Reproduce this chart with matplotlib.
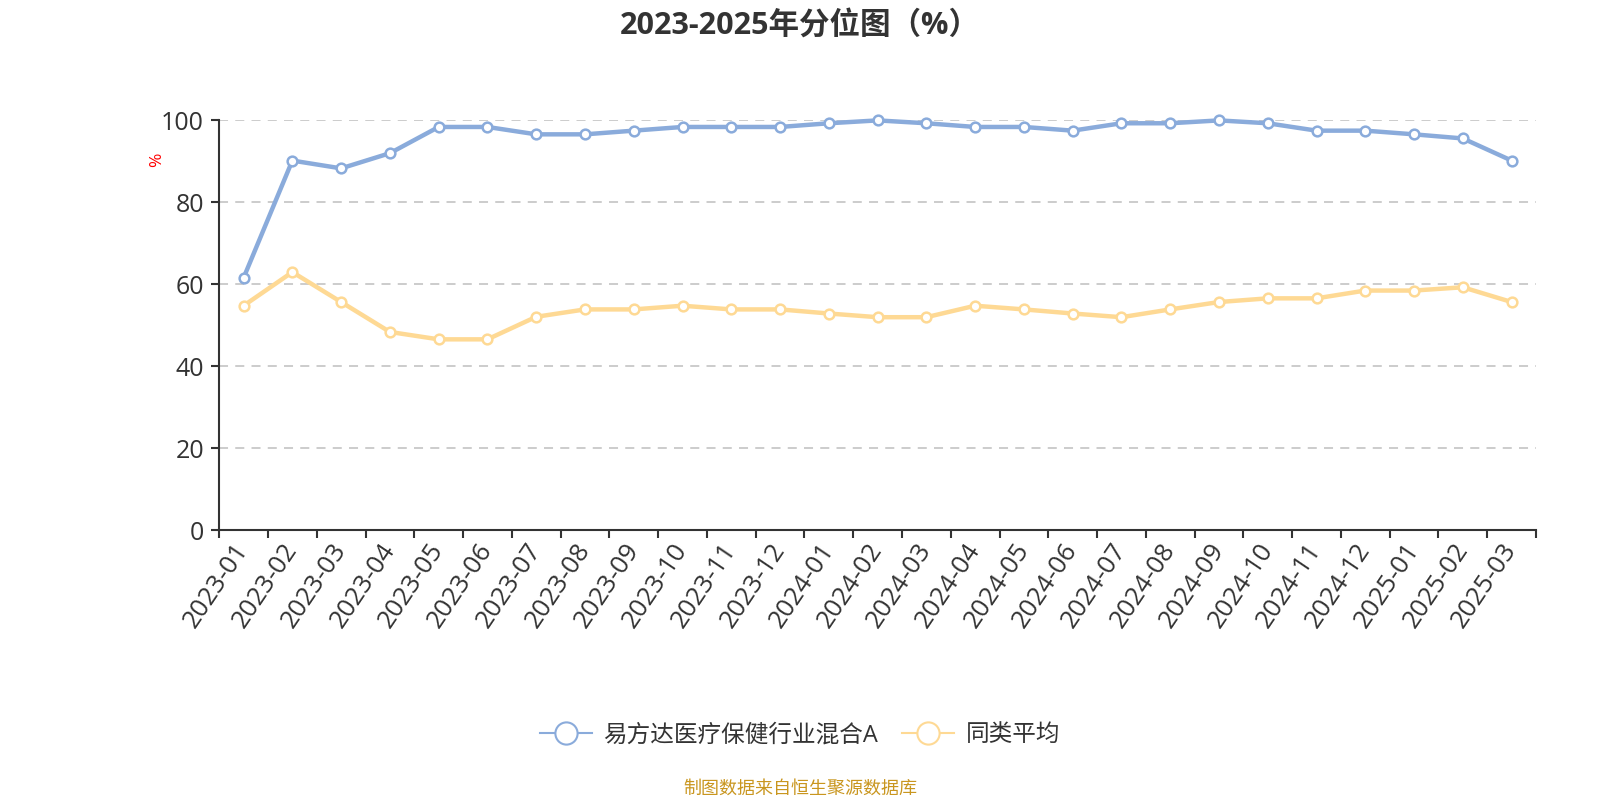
import matplotlib.pyplot as plt
from matplotlib.lines import Line2D

plt.rcParams['font.family'] = ['Open Sans', 'Noto Sans CJK SC', 'DejaVu Sans']

months = ['2023-01', '2023-02', '2023-03', '2023-04', '2023-05', '2023-06', '2023-07',
          '2023-08', '2023-09', '2023-10', '2023-11', '2023-12', '2024-01', '2024-02',
          '2024-03', '2024-04', '2024-05', '2024-06', '2024-07', '2024-08', '2024-09',
          '2024-10', '2024-11', '2024-12', '2025-01', '2025-02', '2025-03']
fund = [61.6, 90.2, 88.3, 92.0, 98.4, 98.4, 96.6, 96.6, 97.5, 98.4, 98.4, 98.4, 99.3, 100.0,
        99.3, 98.4, 98.4, 97.5, 99.3, 99.3, 100.0, 99.3, 97.5, 97.5, 96.6, 95.6, 90.2]
peer = [54.8, 63.0, 55.7, 48.4, 46.6, 46.6, 52.1, 53.9, 53.9, 54.8, 53.9, 53.9, 52.9, 52.0,
        52.0, 54.8, 53.9, 52.9, 52.0, 53.9, 55.7, 56.6, 56.6, 58.5, 58.5, 59.3, 55.7]
series_names = ['易方达医疗保健行业混合A', '同类平均']
yticks = [0, 20, 40, 60, 80, 100]

blue = '#8aabdb'
orange = '#fed994'
text_col = '#333333'

fig = plt.figure(figsize=(16, 8), dpi=100)
ax = fig.add_axes([0.137, 0.337, 0.823, 0.5125])

x = list(range(len(months)))
for vals, col in [(fund, blue), (peer, orange)]:
    ax.plot(x, vals, color=col, lw=3.2, marker='o', ms=7, mfc='white', mec=col, mew=1.8,
            clip_on=False, zorder=3)

ax.set_xlim(-0.5, len(months) - 0.5)
ax.set_ylim(0, 100)
ax.set_yticks(yticks)
ax.set_yticklabels([str(v) for v in yticks], fontsize=18, color=text_col)
for v in yticks[1:]:
    ax.axhline(v, color='#c8c8c8', lw=1.3, ls=(0, (5, 4)), zorder=1)

# ticks at category boundaries, labels at centres
ax.set_xticks([i - 0.5 for i in range(len(months) + 1)])
ax.set_xticklabels([])
ax.set_xticks(x, minor=True)
ax.set_xticklabels(months, minor=True, rotation=56, ha='right', va='center',
                   rotation_mode='anchor', fontsize=18.5, color=text_col)
ax.tick_params(axis='x', which='minor', length=0, pad=11)
ax.tick_params(axis='x', which='major', length=6, width=1.5, color=text_col)
ax.tick_params(axis='y', length=6, width=1.5, color=text_col, pad=5)

for s in ['top', 'right']:
    ax.spines[s].set_visible(False)
for s in ['left', 'bottom']:
    ax.spines[s].set_color(text_col)
    ax.spines[s].set_linewidth(1.5)

fig.text(0.098, 0.8, '%', color='red', fontsize=12.5, rotation=90, ha='center', va='center')
fig.text(0.5, 0.968, '2023-2025年分位图（%）', fontsize=22, fontweight='bold', color=text_col,
         ha='center', va='center')

handles = [Line2D([], [], color=c, lw=1.5, marker='o', ms=16, mfc='white', mec=c, mew=1.5)
           for c in (blue, orange)]
fig.legend(handles, series_names, loc='center', bbox_to_anchor=(0.5, 0.081), ncol=2,
           frameon=False, fontsize=17, labelcolor=text_col, handlelength=2.2,
           columnspacing=1.0, handletextpad=0.5)

fig.text(0.5, 0.014, '制图数据来自恒生聚源数据库', color='#c9961f', fontsize=13,
         ha='center', va='center')

fig.savefig('out.png', dpi=100)
